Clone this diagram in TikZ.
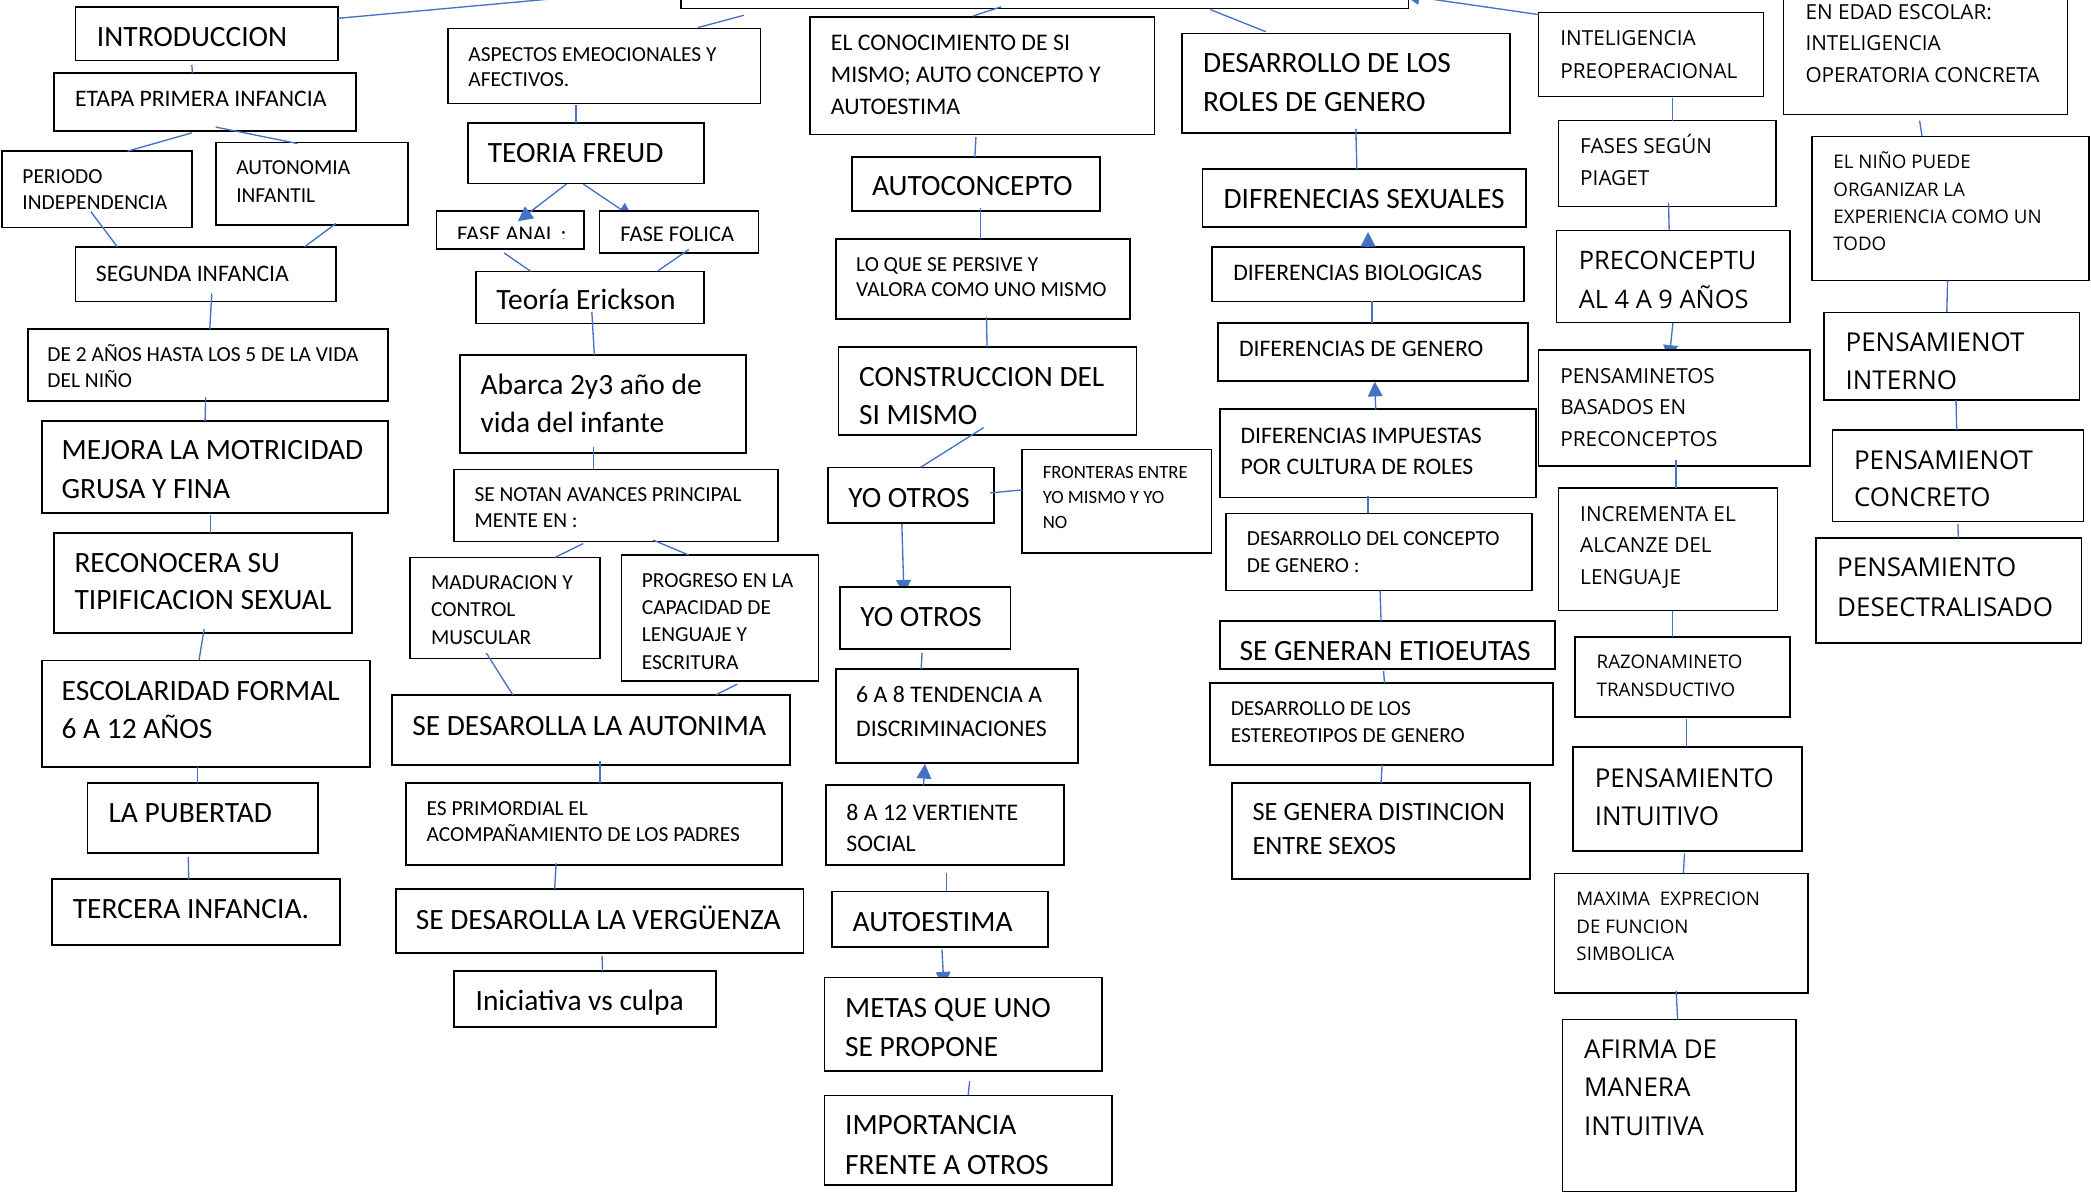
\documentclass[tikz,border=0pt]{standalone}
\usepackage{fontspec}
\setmainfont{Carlito}
\newfontfamily\osfont{Open Sans}
\usetikzlibrary{arrows.meta}
\definecolor{lnblue}{HTML}{4472C4}
\pgfdeclarelayer{paper}
\pgfdeclarelayer{under}
\pgfsetlayers{paper,under,main}
\newcommand\fc[2]{\fontsize{#1}{#2}\selectfont}
\newcommand\fo[2]{\osfont\fontsize{#1}{#2}\selectfont}
\newcommand\ml[1]{\begin{tabular}[t]{@{}l@{}}#1\end{tabular}}
\tikzset{
  boxsty/.style={draw=black, line width=1.1pt, fill=white, inner sep=0pt, outer sep=0pt},
  conn/.style={draw=lnblue, line width=1pt},
  arr/.style={-{Triangle[length=11pt,width=11pt]}},
  txt/.style={inner sep=0pt, outer sep=0pt, anchor=base west},
}
\newcommand\bx[5]{%
  \expandafter\gdef\csname bxX#1\endcsname{#2}%
  \expandafter\gdef\csname bxY#1\endcsname{#3}%
  \node[boxsty, minimum width={(#4-(#2))*1pt}, minimum height={(#5-(#3))*1pt}, anchor=north west] (#1) at (#2,#3) {};%
}
\newcommand\tx[5]{\node[txt, font={#2}] (#1t) at (#3,#4) {\ml{#5}};}
\newcommand\cn[7][]{%
  \edef\cnAx{\csname bxX#2\endcsname}%
  \edef\cnAy{\csname bxY#2\endcsname}%
  \edef\cnBx{\csname bxX#5\endcsname}%
  \edef\cnBy{\csname bxY#5\endcsname}%
  \draw[conn,#1] ([shift={({#3-(\cnAx)},{#4-(\cnAy)})}]#2.north west) -- ([shift={({#6-(\cnBx)},{#7-(\cnBy)})}]#5.north west);%
}
\begin{document}
\begin{tikzpicture}[x=1pt,y=-1pt]
\useasboundingbox (0,0) rectangle (1563,898.5);
\begin{pgfonlayer}{paper}
\fill[white] (0,0) rectangle (1563,898.5);
\end{pgfonlayer}
% boxes
\bx{top}{509}{-60}{1053}{6.3}
\bx{intro}{56.4}{5.1}{252.5}{45.2}
\bx{etapa}{40.4}{54.4}{266.2}{97.8}
\bx{periodo}{1.5}{113}{143.4}{170}
\bx{autonomia}{161.3}{106.7}{305.1}{168.2}
\bx{segunda}{56.4}{184.5}{251.3}{225.2}
\bx{dedos}{21}{246}{289.9}{299.8}
\bx{mejora}{31.3}{314.7}{289.9}{383.4}
\bx{reconoce}{40.4}{398.3}{263.2}{473.2}
\bx{escolar}{31.3}{493.8}{276.5}{573.3}
\bx{pubertad}{65.6}{585.4}{237.6}{637.6}
\bx{tercera}{38.9}{657.1}{254}{706.5}
\bx{aspectos}{334.9}{21.5}{568.3}{77.2}
\bx{freud}{349.7}{91.8}{526.3}{137}
\bx{anal}{326.1}{157.6}{436.7}{186.3}
\bx{folica}{448.1}{157.6}{566.8}{189.1}
\bx{erickson}{355.8}{202.8}{526.3}{241.8}
\bx{abarca}{344}{265.5}{557.6}{338.7}
\bx{notan}{339.4}{350.8}{581.6}{404.6}
\bx{madura}{306.6}{416.6}{448.5}{492.4}
\bx{progreso}{464.5}{414.9}{612}{509}
\bx{autonima}{292.9}{519.4}{590.4}{571.9}
\bx{primordial}{303.6}{585.4}{584.7}{646.5}
\bx{verguenza}{296}{664.6}{600.5}{712.3}
\bx{iniciativa}{339.4}{725.7}{535.1}{767.6}
\bx{conoc}{605.6}{12.6}{862.8}{100.7}
\bx{autocon}{636.7}{117.3}{822.2}{157.6}
\bx{loque}{624.8}{178.8}{844.7}{238.3}
\bx{constr}{626.6}{259.5}{849.4}{325.3}
\bx{yoa}{619}{349.3}{742.9}{390.8}
\bx{fronteras}{763.9}{335.9}{905.5}{413.4}
\bx{yob}{628}{438.6}{755.2}{485.2}
\bx{seisocho}{624.8}{500.2}{805.9}{570.5}
\bx{ochodoce}{617.5}{586.8}{795.4}{646.5}
\bx{autoest}{621.9}{666.3}{783.5}{708}
\bx{metas}{616.1}{730.6}{823.7}{800.6}
\bx{importancia}{616.1}{818.7}{831.3}{885.9}
\bx{roles}{883.4}{24.9}{1128.7}{99.3}
\bx{sexuales}{898.7}{126.2}{1140.7}{169.7}
\bx{biolog}{905.9}{184.8}{1139.2}{225.2}
\bx{degenero}{910.6}{241.5}{1142.1}{284.7}
\bx{impuestas}{912.1}{305.8}{1148.3}{371.9}
\bx{concepto}{916.4}{383.7}{1145}{441.5}
\bx{etiq}{912.1}{464.3}{1162.5}{500.2}
\bx{estereo}{904.5}{510.5}{1161}{571.9}
\bx{distincion}{920.8}{585.4}{1143.6}{657.1}
\bx{intelig}{1149.8}{9.4}{1318.2}{72.2}
\bx{edad}{1333}{-40}{1545.4}{85.6}
\bx{fases}{1165}{90.2}{1327.4}{154.4}
\bx{precon}{1163.5}{172.1}{1337.9}{241.2}
\bx{pensbas}{1149.8}{261.7}{1353}{348.2}
\bx{incrementa}{1165}{364.7}{1328.8}{456.5}
\bx{razon}{1177.2}{476.3}{1337.9}{536}
\bx{intuitivo}{1175.8}{558.4}{1347.1}{636.2}
\bx{maxima}{1162.1}{652.8}{1351.6}{742.1}
\bx{afirma}{1168.1}{762.2}{1342.5}{890.5}
\bx{nino}{1354.5}{101.9}{1561.5}{209.8}
\bx{interno}{1363.3}{233.5}{1554.5}{299.1}
\bx{concreto}{1369.6}{321.4}{1557.4}{389.9}
\bx{desec}{1357.3}{402.1}{1555.7}{480.6}
% texts, left column
\tx{intro}{\fc{22}{29}}{72.5}{34.9}{INTRODUCCION}
\tx{etapa}{\fc{17.7}{22}}{56.1}{79.5}{ETAPA PRIMERA INFANCIA}
\tx{periodo}{\fc{16}{19}}{16.8}{137.3}{PERIODO\\INDEPENDENCIA}
\tx{autonomia}{\fc{16}{20.3}}{176.6}{130.7}{AUTONOMIA\\INFANTIL}
\tx{segunda}{\fc{17.7}{22}}{71.7}{210.3}{SEGUNDA INFANCIA}
\tx{dedos}{\fc{16}{19.1}}{35.5}{270.4}{DE 2 AÑOS HASTA LOS 5 DE LA VIDA\\DEL NIÑO}
\tx{mejora}{\fc{22}{29.5}}{46.1}{343.3}{MEJORA LA MOTRICIDAD\\GRUSA Y FINA}
\tx{reconoce}{\fc{22}{28}}{55.7}{427.7}{RECONOCERA SU\\TIPIFICACION SEXUAL}
\tx{escolar}{\fc{22}{28.1}}{46.1}{523.7}{ESCOLARIDAD FORMAL\\6 A 12 AÑOS}
\tx{pubertad}{\fc{22}{29}}{81.2}{615}{LA PUBERTAD}
\tx{tercera}{\fc{22}{29}}{54.5}{686.4}{TERCERA INFANCIA.}
% second column
\tx{aspectos}{\fc{16}{18.6}}{350.1}{45.8}{ASPECTOS EMEOCIONALES Y\\AFECTIVOS.}
\tx{freud}{\fc{22}{29}}{364.6}{121.6}{TEORIA FREUD}
\begin{scope}
\clip (326.1,157.6) rectangle (436.7,178.4);
\tx{anal}{\fc{16.8}{20}}{341.7}{180.8}{FASE ANAL :}
\end{scope}
\tx{folica}{\fc{16.8}{20}}{463.8}{180.8}{FASE FOLICA}
\tx{erickson}{\fc{22}{29}}{371.1}{231.7}{Teoría Erickson}
\tx{abarca}{\fc{22}{28.6}}{359.3}{294.7}{Abarca 2y3 año de\\vida del infante}
\tx{notan}{\fc{16}{19.2}}{354.7}{374.8}{SE NOTAN AVANCES PRINCIPAL\\MENTE EN :}
\tx{madura}{\fc{16}{20.5}}{322.3}{440.6}{MADURACION Y\\CONTROL\\MUSCULAR}
\tx{progreso}{\fc{16}{20.3}}{479.8}{439.2}{PROGRESO EN LA\\CAPACIDAD DE\\LENGUAJE Y\\ESCRITURA}
\tx{autonima}{\fc{22}{29}}{308.2}{549.5}{SE DESAROLLA LA AUTONIMA}
\tx{primordial}{\fc{16}{20.1}}{318.9}{609.2}{ES PRIMORDIAL EL\\ACOMPAÑAMIENTO DE LOS PADRES}
\tx{verguenza}{\fc{22}{29}}{310.8}{694.5}{SE DESAROLLA LA VERGÜENZA}
\tx{iniciativa}{\fc{22}{29}}{355.5}{755.6}{Iniciativa vs culpa}
% third column
\tx{conoc}{\fc{17.8}{23.9}}{621.1}{38.1}{EL CONOCIMIENTO DE SI\\MISMO; AUTO CONCEPTO Y\\AUTOESTIMA}
\tx{autocon}{\fc{22}{29}}{651.9}{146.5}{AUTOCONCEPTO}
\tx{loque}{\fc{16}{19.4}}{640}{202.6}{LO QUE SE PERSIVE Y\\VALORA COMO UNO MISMO}
\tx{constr}{\fc{22}{28.6}}{642.2}{289}{CONSTRUCCION DEL\\SI MISMO}
\tx{yoa}{\fc{22}{29}}{634.2}{379.1}{YO OTROS}
\tx{fronteras}{\fc{14}{18.6}}{779.5}{357.6}{FRONTERAS ENTRE\\YO MISMO Y YO\\NO}
\tx{yob}{\fc{22}{29}}{643.2}{468.6}{YO OTROS}
\tx{seisocho}{\fc{17.8}{25}}{640}{525.4}{6 A 8 TENDENCIA A\\DISCRIMINACIONES}
\tx{ochodoce}{\fc{17.8}{23.5}}{632.7}{613}{8 A 12 VERTIENTE\\SOCIAL}
\tx{autoest}{\fc{22}{29}}{637.4}{696.2}{AUTOESTIMA}
\tx{metas}{\fc{22}{29.5}}{631.7}{760.5}{METAS QUE UNO\\SE PROPONE}
\tx{importancia}{\fc{22}{29.3}}{631.7}{848.3}{IMPORTANCIA\\FRENTE A OTROS}
% fourth column
\tx{roles}{\fc{22}{28.6}}{899.4}{54.4}{DESARROLLO DE LOS\\ROLES DE GENERO}
\tx{sexuales}{\fc{22}{29}}{914.6}{155.9}{DIFRENECIAS SEXUALES}
\tx{biolog}{\fc{17.7}{22}}{921.9}{209.7}{DIFERENCIAS BIOLOGICAS}
\tx{degenero}{\fc{17.7}{22}}{926.2}{266.7}{DIFERENCIAS DE GENERO}
\tx{impuestas}{\fc{17.7}{23.5}}{927.3}{331.3}{DIFERENCIAS IMPUESTAS\\POR CULTURA DE ROLES}
\tx{concepto}{\fc{16}{20}}{932}{407.7}{DESARROLLO DEL CONCEPTO\\DE GENERO :}
\begin{scope}
\clip (912.1,464.3) rectangle (1162.5,494.8);
\tx{etiq}{\fc{22}{29}}{926.6}{493.5}{SE GENERAN ETIOEUTAS}
\end{scope}
\tx{estereo}{\fc{16}{20.1}}{920}{534.6}{DESARROLLO DE LOS\\ESTEREOTIPOS DE GENERO}
\tx{distincion}{\fc{19.7}{25.6}}{936.3}{613.2}{SE GENERA DISTINCION\\ENTRE SEXOS}
% fifth column
\tx{intelig}{\fo{15.5}{24.3}}{1166.4}{34.2}{INTELIGENCIA\\PREOPERACIONAL}
\tx{fases}{\fo{15.5}{24.3}}{1181.2}{114.7}{FASES SEGÚN\\PIAGET}
\tx{precon}{\fo{19}{29.4}}{1180.1}{201.2}{PRECONCEPTU\\AL 4 A 9 AÑOS}
\tx{pensbas}{\fo{15.5}{23.8}}{1166.4}{286.3}{PENSAMINETOS\\BASADOS EN\\PRECONCEPTOS}
\tx{incrementa}{\fo{15.5}{23.4}}{1181.2}{389.9}{INCREMENTA EL\\ALCANZE DEL\\LENGUAJE}
\tx{razon}{\fo{14}{20.7}}{1193.5}{499.6}{RAZONAMINETO\\TRANSDUCTIVO}
\tx{intuitivo}{\fo{19.4}{29}}{1192.1}{588.3}{PENSAMIENTO\\INTUITIVO}
\tx{maxima}{\fo{14}{20.8}}{1178.4}{676.7}{MAXIMA~~EXPRECION\\DE FUNCION\\SIMBOLICA}
\tx{afirma}{\fo{19.4}{29}}{1184.1}{790.9}{AFIRMA DE\\MANERA\\INTUITIVA}
% sixth column
\tx{edad}{\fo{15.5}{23.3}}{1349.6}{14.8}{EN EDAD ESCOLAR:\\INTELIGENCIA\\OPERATORIA CONCRETA}
\tx{nino}{\fo{14}{20.5}}{1370.5}{126.1}{EL NIÑO PUEDE\\ORGANIZAR LA\\EXPERIENCIA COMO UN\\TODO}
\tx{interno}{\fo{19.4}{28.5}}{1379.6}{262.6}{PENSAMIENOT\\INTERNO}
\tx{concreto}{\fo{19.4}{27.4}}{1385.9}{351}{PENSAMIENOT\\CONCRETO}
\tx{desec}{\fo{19.4}{29.6}}{1373.3}{430.9}{PENSAMIENTO\\DESECTRALISADO}
% connectors hidden behind boxes
\begin{pgfonlayer}{under}
\cn[arr]{freud}{436}{137.6}{folica}{473}{162.5}
\cn[arr]{yoa}{674}{388.2}{yob}{675.7}{444.5}
\cn[arr]{autoest}{704.1}{709.7}{metas}{705.6}{737.5}
\cn[arr]{precon}{1251.4}{232.6}{pensbas}{1247.6}{269}
\end{pgfonlayer}
% connectors
\cn{intro}{252.5}{13.7}{top}{509}{-9.6}
\cn{intro}{143.4}{48.6}{etapa}{143.8}{54.4}
\cn{etapa}{143.4}{99.3}{periodo}{95.4}{113}
\cn{etapa}{161.3}{95}{autonomia}{222.4}{107.3}
\cn{periodo}{67.9}{158.2}{segunda}{87.7}{184.5}
\cn{autonomia}{251}{167.1}{segunda}{227.7}{184.5}
\cn{segunda}{158.3}{219.4}{dedos}{156.8}{246}
\cn{dedos}{153.7}{297}{mejora}{153.3}{314.7}
\cn{mejora}{157.1}{384.8}{reconoce}{157.1}{398.3}
\cn{reconoce}{152.6}{470.3}{escolar}{148.7}{493.8}
\cn{escolar}{147.6}{573.6}{pubertad}{147.6}{585.4}
\cn{pubertad}{140.7}{640.5}{tercera}{141.1}{657.1}
\cn{aspectos}{521.8}{20.6}{top}{556.1}{11.4}
\cn{aspectos}{430.6}{78.7}{freud}{430.6}{91.8}
\cn[arr]{freud}{423.4}{137.6}{anal}{387.1}{165.4}
\cn{anal}{376.8}{189.1}{erickson}{396.7}{202.8}
\cn{folica}{514.9}{186.5}{erickson}{492}{202.3}
\cn{erickson}{442.4}{233.2}{abarca}{444.3}{265.5}
\cn{abarca}{443.6}{334.2}{notan}{443.6}{350.8}
\cn{notan}{435.9}{406.3}{madura}{415}{416.6}
\cn{notan}{488.2}{403.7}{progreso}{514.9}{414.9}
\cn{madura}{363.5}{488.1}{autonima}{383.3}{519.4}
\cn{progreso}{551.1}{511.4}{autonima}{535.1}{519.4}
\cn{autonima}{448.5}{569}{primordial}{448.5}{585.4}
\cn{primordial}{415.7}{645.4}{verguenza}{414.6}{664.6}
\cn{verguenza}{450}{714.3}{iniciativa}{450.4}{725.7}
\cn{conoc}{727.3}{12}{top}{748.3}{5.1}
\cn{top}{904.8}{7.2}{roles}{946.1}{23.7}
\cn[arr]{intelig}{1150.1}{10.9}{top}{1050}{-3.5}
\cn{conoc}{729.5}{102.4}{autocon}{728.7}{117.3}
\cn{autocon}{732.7}{155.4}{loque}{732.7}{178.8}
\cn{loque}{737.4}{236.9}{constr}{737.8}{259.5}
\cn{constr}{735.3}{319.6}{yoa}{688.2}{349.3}
\cn{yoa}{740}{368.5}{fronteras}{763.9}{366.2}
\cn{roles}{1013.5}{96.4}{sexuales}{1014.2}{126.2}
\cn[arr]{biolog}{1022.6}{184.8}{sexuales}{1022.6}{173.4}
\cn{biolog}{1025.5}{225.2}{degenero}{1025.5}{241.5}
\cn[arr]{impuestas}{1028.3}{305.8}{degenero}{1027.6}{285.3}
\cn{impuestas}{1022.6}{370.5}{concepto}{1022.6}{383.7}
\cn{concepto}{1031.6}{441.5}{etiq}{1032.3}{464.3}
\cn{yob}{689.3}{488.1}{seisocho}{688.5}{500.2}
\cn[arr]{ochodoce}{690.3}{586.8}{seisocho}{691.4}{571}
\cn{ochodoce}{707.4}{652.6}{autoest}{707.4}{666.3}
\cn{metas}{724.8}{808.1}{importancia}{723.7}{818.7}
\cn{etiq}{1034.2}{501.6}{estereo}{1034.9}{510.5}
\cn{estereo}{1033.1}{571.9}{distincion}{1032.3}{585.4}
\cn{intelig}{1250}{73.6}{fases}{1250}{90.2}
\cn{fases}{1247.2}{151.5}{precon}{1247.7}{172.1}
\cn{pensbas}{1252.9}{343.9}{incrementa}{1252.9}{364.7}
\cn{edad}{1434.9}{90.2}{nino}{1436.7}{101.9}
\cn{nino}{1455.8}{209.8}{interno}{1455.2}{233.5}
\cn{interno}{1462.1}{299.1}{concreto}{1462.6}{321.4}
\cn{concreto}{1463.5}{391.6}{desec}{1463.8}{402.1}
\cn{incrementa}{1250}{456.5}{razon}{1250}{476.3}
\cn{razon}{1260.6}{537.8}{intuitivo}{1260.6}{558.4}
\cn{intuitivo}{1259.2}{637.9}{maxima}{1258.3}{652.8}
\cn{maxima}{1252.9}{740.7}{afirma}{1254}{762.2}
\end{tikzpicture}
\end{document}
